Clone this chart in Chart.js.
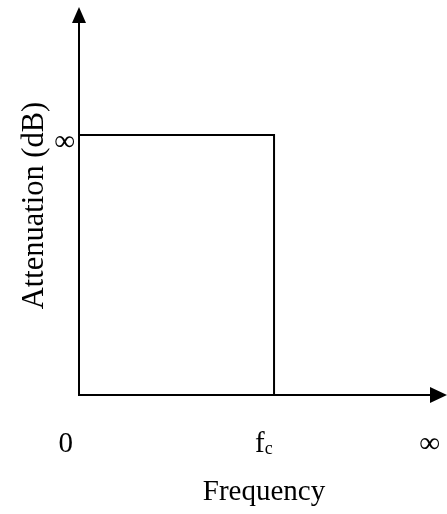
<!DOCTYPE html>
<html><head><meta charset="utf-8">
<script src="https://cdn.jsdelivr.net/npm/chart.js@4"></script>
<style>html,body{margin:0;padding:0;background:#fff;}#wrap{width:447px;height:514px;}</style>
</head><body><div id="wrap"><canvas id="c"></canvas></div>
<script>
// ---- data ----
const xTickValues = [0, 53, 95];
const xTickLabels = ['0', 'f', '∞'];
const xTickSubscripts = ['', 'c', ''];
const yTickValues = [67];
const yTickLabels = ['∞'];
const responseX = [0, 53, 53];
const responseY = [67, 67, 0];
const axisMaxX = 100;
const axisMaxY = 100;
const xTitle = 'Frequency';
const yTitle = 'Attenuation (dB)';

const FONT = "'Liberation Serif','Times New Roman',serif";

const axesPlugin = {
  id: 'axesArrows',
  afterDatasetsDraw(chart) {
    const {ctx, scales: {x, y}} = chart;
    const x0 = x.getPixelForValue(0), y0 = y.getPixelForValue(0);
    const xEnd = x.getPixelForValue(axisMaxX), yEnd = y.getPixelForValue(axisMaxY);
    ctx.save();
    ctx.strokeStyle = '#000'; ctx.fillStyle = '#000'; ctx.lineWidth = 2;
    ctx.beginPath();
    ctx.moveTo(x0, y0); ctx.lineTo(xEnd - 12, y0);
    ctx.moveTo(x0, y0 + 1); ctx.lineTo(x0, yEnd + 12);
    ctx.stroke();
    // arrow heads
    ctx.beginPath();
    ctx.moveTo(xEnd, y0); ctx.lineTo(xEnd - 17, y0 - 8); ctx.lineTo(xEnd - 17, y0 + 8); ctx.closePath(); ctx.fill();
    ctx.beginPath();
    ctx.moveTo(x0, yEnd); ctx.lineTo(x0 - 7, yEnd + 16); ctx.lineTo(x0 + 7, yEnd + 16); ctx.closePath(); ctx.fill();
    // x tick labels
    ctx.textBaseline = 'alphabetic';
    xTickValues.forEach((v, i) => {
      const px = x.getPixelForValue(v);
      ctx.font = `29px ${FONT}`;
      if (i === 0) {
        ctx.textAlign = 'right';
        ctx.fillText(xTickLabels[i], px - 6, y0 + 57);
      } else if (xTickSubscripts[i]) {
        ctx.textAlign = 'left';
        const lx = px - 19;
        ctx.fillText(xTickLabels[i], lx, y0 + 57);
        const w = ctx.measureText(xTickLabels[i]).width;
        ctx.font = `18px ${FONT}`;
        ctx.fillText(xTickSubscripts[i], lx + w, y0 + 59);
      } else {
        ctx.textAlign = 'center';
        ctx.fillText(xTickLabels[i], px + 1, y0 + 57);
      }
    });
    // y tick labels
    ctx.font = `29px ${FONT}`;
    ctx.textAlign = 'right';
    yTickValues.forEach((v, i) => {
      ctx.fillText(yTickLabels[i], x0 - 4, y.getPixelForValue(v) + 15);
    });
    // axis titles
    ctx.textAlign = 'center';
    ctx.font = `29px ${FONT}`;
    ctx.fillText(xTitle, (x.left + x.right) / 2 + 1, y0 + 105);
    ctx.save();
    ctx.translate(x0 - 36, (y.top + y.bottom) / 2 + 4.5);
    ctx.rotate(-Math.PI / 2);
    ctx.font = `30.5px ${FONT}`;
    ctx.fillText(yTitle, 0, 0);
    ctx.restore();
    ctx.restore();
  }
};

new Chart(document.getElementById('c'), {
  type: 'line',
  data: {
    datasets: [{
      data: responseX.map((v, i) => ({x: v, y: responseY[i]})),
      borderColor: '#000', borderWidth: 2, pointRadius: 0, fill: false,
      tension: 0, clip: false, borderJoinStyle: 'miter'
    }]
  },
  options: {
    responsive: true, maintainAspectRatio: false, animation: false,
    layout: {padding: {top: 7, right: 0, bottom: 0, left: 0}},
    plugins: {legend: {display: false}, tooltip: {enabled: false}},
    scales: {
      x: {
        type: 'linear', min: 0, max: axisMaxX,
        grid: {display: false}, border: {display: false}, ticks: {display: false},
        title: {display: false, text: xTitle},
        afterFit(s) { s.height = 119; }
      },
      y: {
        type: 'linear', min: 0, max: axisMaxY,
        grid: {display: false}, border: {display: false}, ticks: {display: false},
        title: {display: false, text: yTitle},
        afterFit(s) { s.width = 79; }
      }
    }
  },
  plugins: [axesPlugin]
});
</script>
</body></html>
